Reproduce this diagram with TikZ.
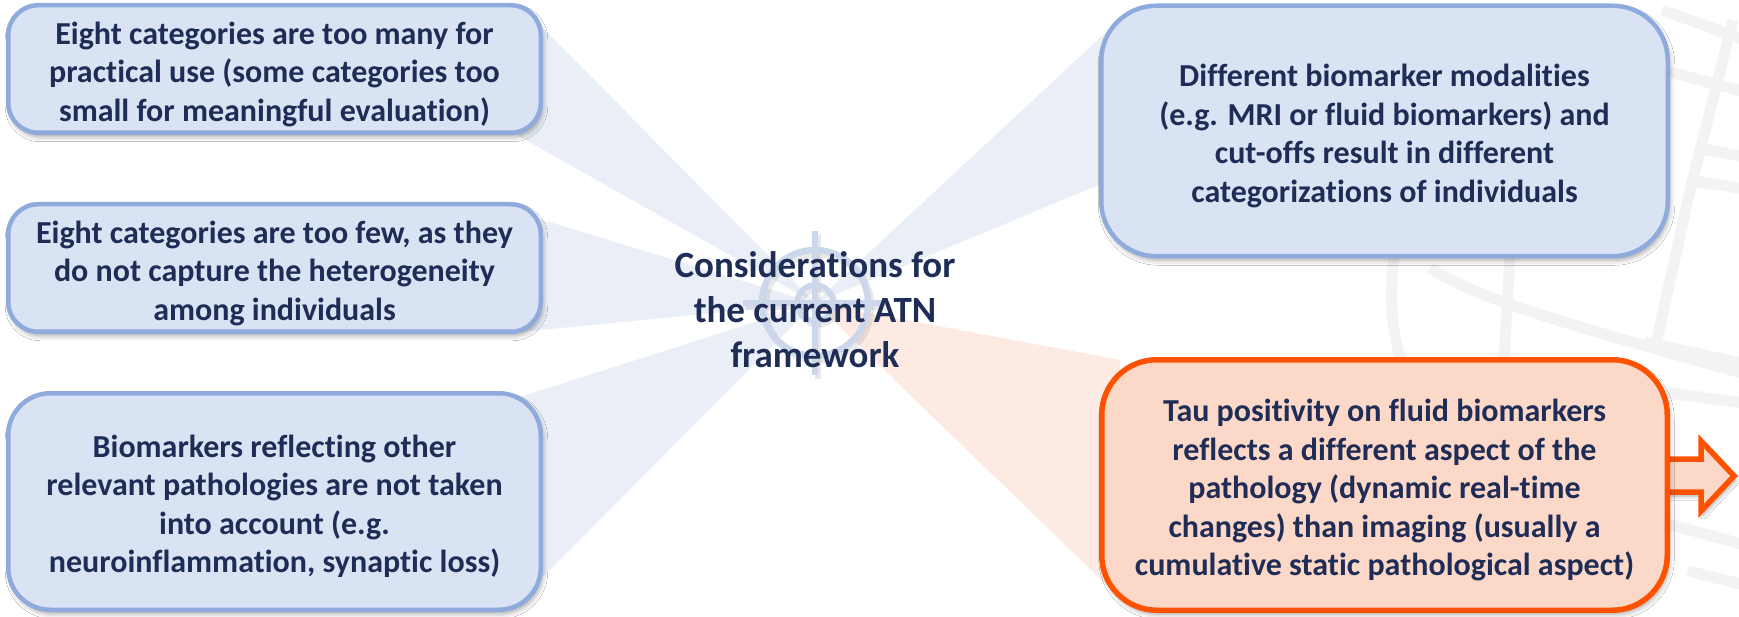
\documentclass[tikz,border=0pt]{standalone}
\usepackage{fontspec}
\setmainfont{Carlito}[Ligatures={NoCommon,NoContextual},Contextuals={NoAlternate}]
\usetikzlibrary{shadows.blur,calc}
\definecolor{txt}{HTML}{1F2D56}
\definecolor{bfill}{HTML}{DAE3F3}
\definecolor{bdraw}{HTML}{8FAADC}
\definecolor{ofill}{HTML}{FCD8C8}
\definecolor{odraw}{HTML}{FF5200}
\definecolor{wblue}{HTML}{E9EEF7}
\definecolor{worange}{HTML}{FDEAE2}
\definecolor{tgt}{HTML}{CCD7EC}
\definecolor{bggray}{HTML}{F3F3F3}
\begin{document}
\begin{tikzpicture}[x=1pt,y=-1pt,
  box/.style={draw=bdraw, fill=bfill, line width=4.5pt, inner sep=0pt,
    blur shadow={shadow xshift=2pt, shadow yshift=-4pt, shadow blur radius=5pt, shadow opacity=35}},
  obox/.style={box, draw=odraw, fill=ofill, line width=5.5pt},
  boxtext/.style={text=txt, align=center, inner sep=0pt, yshift=-5pt,
    font=\bfseries\fontsize{32}{38.5}\selectfont},
  wedge/.style={fill=wblue},
  owedge/.style={fill=worange},
  bgline/.style={draw=bggray, line width=11pt},
  tgtline/.style={draw=tgt, line width=5.5pt},
  title/.style={text=txt, align=center, inner sep=0pt, font=\bfseries\fontsize{37}{45}\selectfont}
]
\useasboundingbox (0,0) rectangle (1739,617);
\fill[white] (0,0) rectangle (1739,617);

% faint background graphic
\path[bgline] (1395,250) .. controls (1388,300) and (1392,330) .. (1402,365);
\path[bgline] (1430,268) .. controls (1480,300) and (1560,322) .. (1745,374);
\path[bgline] (1510,255) -- (1504,360);
\path[bgline] (1733,20) -- (1690,190) -- (1655,348);
\path[bgline] (1662,10) -- (1745,40);
\path[bgline] (1670,72) -- (1745,92);
\path[bgline] (1698,148) -- (1745,157);
\path[bgline] (1688,180) -- (1745,189);
\path[bgline] (1645,342) -- (1745,364);
\path[bgline] (1668,393) -- (1745,403);
\path[bgline] (1668,524) -- (1745,545);
\path[bgline] (1688,571) -- (1745,585);

% center
\coordinate (c) at (815,303);

% wedges
\path[wedge] (c) -- (530,15) -- (515,134) -- cycle;
\path[wedge] (c) -- (520,213) -- (520,332) -- cycle;
\path[wedge] (c) -- (520,397) -- (515,605) -- cycle;
\path[wedge] (c) -- (1115,24) -- (1115,178) -- cycle;
\path[owedge] (c) -- (1120,360) -- (1115,593) -- cycle;

% target icon (shadow, then icon)
\begin{scope}[shift={(c)}, xshift=3pt, yshift=-4pt, opacity=0.14]
  \draw[line width=7pt, black!60] (0,0) circle[radius=53];
  \draw[line width=6pt, black!60] (0,0) circle[radius=18];
  \draw[line width=6pt, black!60] (0,-72) -- (0,72) (-72,0) -- (72,0);
\end{scope}
\begin{scope}[shift={(c)}]
  \draw[tgtline, line width=6.5pt] (0,0) circle[radius=53];
  \draw[tgtline] (0,0) circle[radius=18];
  \draw[tgtline] (0,-72) -- (0,72) (-72,0) -- (72,0);
\end{scope}

\node[title] (ctr) at (815,310) {Considerations for\\the current ATN\\framework};

% arrow behind the orange box
\coordinate (ae) at (1667,485);
\path[draw=odraw, fill=ofill, line width=5.5pt, line join=miter,
  blur shadow={shadow xshift=2pt, shadow yshift=-4pt, shadow blur radius=4pt, shadow opacity=35}]
  ($(ae)+(0,-26)$) -- ($(ae)+(34,-26)$) -- ($(ae)+(34,-44)$) -- ($(ae)+(67,-9)$)
  -- ($(ae)+(34,26)$) -- ($(ae)+(34,7)$) -- ($(ae)+(0,7)$) -- cycle;

% boxes
\node[box, rounded corners=30pt, minimum width=532.5pt, minimum height=127.5pt] (b1) at (274.5,69) {};
\node[boxtext] (b1t) at (b1.center)
  {Eight categories are too many for\\practical use (some categories too\\small for meaningful evaluation)};
\node[box, rounded corners=30pt, minimum width=532.5pt, minimum height=127.5pt] (b2) at (274.5,268) {};
\node[boxtext] (b2t) at (b2.center)
  {Eight categories are too few, as they\\do not capture the heterogeneity\\among individuals};
\node[box, rounded corners=42pt, minimum width=532.5pt, minimum height=216.5pt] (b3) at (274.5,501.5) {};
\node[boxtext] (b3t) at (b3.center)
  {Biomarkers reflecting other\\relevant pathologies are not taken\\into account (e.g.\\neuroinflammation, synaptic loss)};
\node[box, rounded corners=55pt, minimum width=566.5pt, minimum height=250.5pt] (b4) at (1384.5,131) {};
\node[boxtext] (b4t) at (b4.center)
  {Different biomarker modalities\\(e.g. MRI or fluid biomarkers) and\\cut-offs result in different\\categorizations of individuals};
\node[obox, rounded corners=55pt, minimum width=565.5pt, minimum height=250.5pt] (b5) at (1384.5,485) {};
\node[boxtext] (b5t) at (b5.center)
  {Tau positivity on fluid biomarkers\\reflects a different aspect of the\\pathology (dynamic real-time\\changes) than imaging (usually a\\cumulative static pathological aspect)};
\end{tikzpicture}
\end{document}
